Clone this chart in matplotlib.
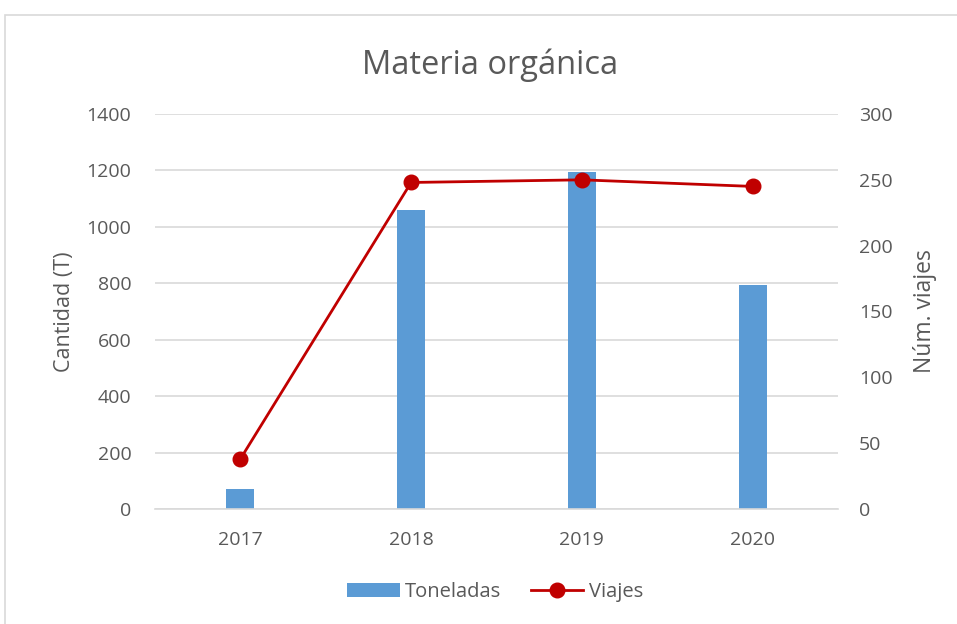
import numpy as np
import matplotlib
matplotlib.use("Agg")
import matplotlib.pyplot as plt
from matplotlib.patches import Rectangle

years = ["2017", "2018", "2019", "2020"]
toneladas = [72, 1058, 1196, 794]
viajes = [38, 248, 250, 245]

plt.rcParams['font.family'] = ['Open Sans', 'DejaVu Sans']
TXT = '#595959'
GRID = '#d9d9d9'

fig = plt.figure(figsize=(9.57, 6.24), dpi=100)
fig.patches.append(Rectangle((5 / 957, -0.1), 1.1, 1 - 15 / 624 + 0.1,
                             transform=fig.transFigure, fill=False,
                             edgecolor=GRID, linewidth=1.2))

ax = fig.add_axes([155 / 957, 1 - 509 / 624, (838 - 155) / 957, (509 - 114) / 624])
x = np.arange(len(years))
ax.bar(x, toneladas, width=0.165, color='#5b9bd5', label='Toneladas', zorder=2)
ax.set_ylim(0, 1400)
ax.set_xlim(-0.5, 3.5)
ax.set_yticks(np.arange(0, 1401, 200))
ax.set_xticks(x)
ax.set_xticklabels(years)
ax.grid(axis='y', color=GRID, linewidth=1.2, zorder=0)
for s in ['top', 'left', 'right']:
    ax.spines[s].set_visible(False)
ax.spines['bottom'].set_color(GRID)
ax.spines['bottom'].set_linewidth(1.2)
ax.tick_params(length=0, labelsize=14, colors=TXT)
ax.tick_params(axis='y', pad=17)
ax.tick_params(axis='x', pad=16)
ax.set_ylabel('Cantidad (T)', fontsize=15.5, color=TXT, labelpad=8)

ax2 = ax.twinx()
ax2.plot(x, viajes, color='#c00000', linewidth=2, marker='o', markersize=10.5,
         label='Viajes', zorder=3)
ax2.set_ylim(0, 300)
ax2.set_yticks(np.arange(0, 301, 50))
for s in ax2.spines.values():
    s.set_visible(False)
ax2.tick_params(length=0, labelsize=14, colors=TXT, pad=15)
ax2.set_ylabel('Núm. viajes', fontsize=16.5, color=TXT, labelpad=15)

fig.suptitle('Materia orgánica', fontsize=23.5, color=TXT, x=490 / 957, y=0.922)

h1, l1 = ax.get_legend_handles_labels()
h2, l2 = ax2.get_legend_handles_labels()
fig.legend(h1 + h2, l1 + l2, loc='center', bbox_to_anchor=(495 / 957, 1 - 592 / 624),
           ncol=2, frameon=False, fontsize=14.5, labelcolor=TXT,
           handlelength=2.6, columnspacing=1.5, handletextpad=0.25)

fig.savefig('out.png', dpi=100)
